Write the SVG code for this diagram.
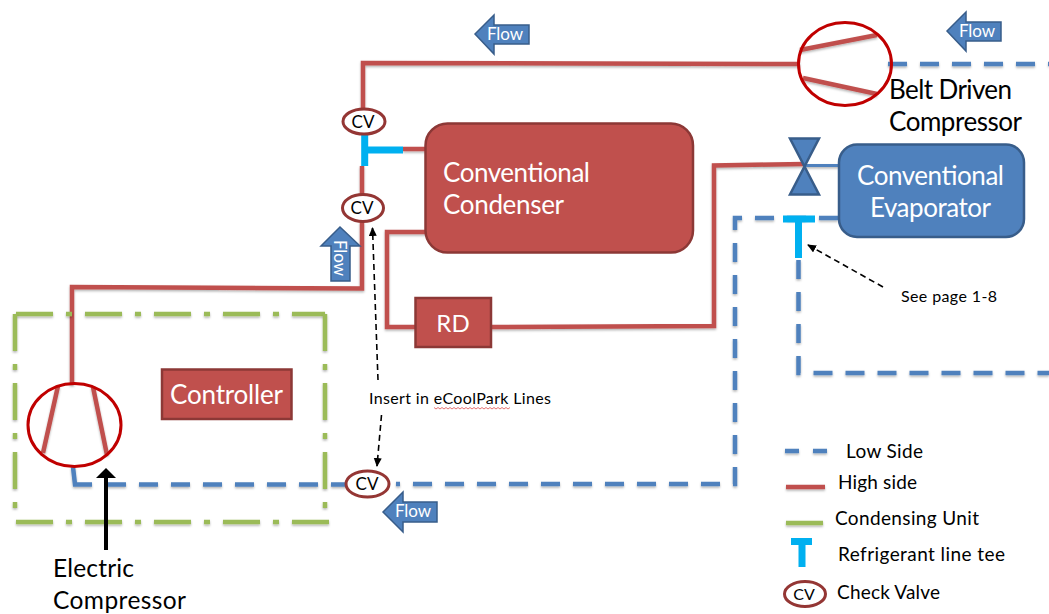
<svg xmlns="http://www.w3.org/2000/svg" width="1049" height="614" viewBox="0 0 1049 614">
<style>
text{font-family:Lato,"Liberation Sans",sans-serif}
.hi{fill:none;stroke:#C0504D;stroke-width:4.5;filter:url(#sh)}
.lo{fill:none;stroke:#4F81BD;stroke-width:4.5;stroke-dasharray:19 13;filter:url(#sh)}
.lo0{fill:none;stroke:#4F81BD;stroke-width:4.5;filter:url(#sh)}
.cu{fill:none;stroke:#9BBB59;stroke-width:4.5;stroke-dasharray:37 13 6 13;filter:url(#sh)}
.tee{fill:none;stroke:#00B0F0;stroke-width:7}
.cv{fill:#fff;stroke:#943634;stroke-width:3}
.comp{fill:none;stroke:#C00000;stroke-width:3}
.red{fill:#C0504D;stroke:#8C3836;stroke-width:2.5}
.blue{fill:#4F81BD;stroke:#385D8A;stroke-width:2.5}
.w{fill:#fff}
.k{fill:#000}
.an{fill:none;stroke:#000;stroke-width:1.6;stroke-dasharray:6 4}
</style>
<defs>
<filter id="sh" x="0" y="0" width="1049" height="614" filterUnits="userSpaceOnUse"><feDropShadow dx="0" dy="1.5" stdDeviation="1" flood-opacity=".3"/></filter>
<marker id="ah" markerWidth="10" markerHeight="10" refX="8" refY="4" orient="auto" markerUnits="userSpaceOnUse"><path d="M0,0L9,4L0,8Z" fill="#000"/></marker>
</defs>
<g id="connectors">
<path class="hi" d="M363,112V63L800,64"/>
<path class="hi" d="M362,166V195M362,222V288.500L72,287V385"/>
<path class="hi" d="M403,149H426"/>
<path class="hi" d="M426,232H387V327H415"/>
<path class="hi" d="M491,327L714,326V165.500L805,164"/>
<path class="lo0" d="M805,165.500H839" style="stroke-width:3"/>
<path class="lo" d="M888,64H1049"/>
<path class="lo" d="M838,218H735V484H396"/>
<path class="lo" d="M798.500,260V373H1049"/>
<path class="lo0" d="M73,467L75,484.500H92"/>
<path class="lo" style="stroke-dashoffset:3" d="M347,484.500H107"/>
<path class="cu" d="M16,314H325"/>
<path class="cu" d="M325,314V512"/>
<path class="cu" d="M15,314V512"/>
<path class="cu" d="M16,522H329"/>
<path class="an" d="M378,380L372.500,228" marker-end="url(#ah)"/>
<path class="an" d="M381.500,415L377,466" marker-end="url(#ah)"/>
<path class="an" d="M883,287L808,245" marker-end="url(#ah)"/>
<path d="M106,550V477" fill="none" stroke="#000" stroke-width="4"/>
<path d="M96,478H116L106,468Z" fill="#000"/>
</g>
<g id="belt-compressor">
<path class="hi" d="M800,50L877,35M803,78L877,94"/>
<ellipse class="comp" cx="845" cy="64" rx="46.500" ry="41.500"/>
<text class="k" font-size="26" x="889" y="99" textLength="123">Belt Driven</text>
<text class="k" font-size="26" x="889" y="131" textLength="133">Compressor</text>
</g>
<g id="electric-compressor">
<path class="hi" d="M58,386L43,453M93,387L107,455"/>
<ellipse class="comp" cx="74.500" cy="425" rx="46.500" ry="41.500"/>
<text class="k" font-size="24.500" x="53" y="577" textLength="81">Electric</text>
<text class="k" font-size="24.500" x="53" y="608.500" textLength="133">Compressor</text>
</g>
<g id="condenser">
<rect class="red" x="425.500" y="123.500" width="267.500" height="129" rx="22"/>
<text class="w" font-size="26" x="443" y="181.500" textLength="147">Conventional</text>
<text class="w" font-size="26" x="443" y="214" textLength="121">Condenser</text>
</g>
<g id="evaporator">
<rect class="blue" x="839" y="144.500" width="185" height="92.500" rx="18"/>
<text class="w" font-size="26" x="857" y="185" textLength="147">Conventional</text>
<text class="w" font-size="26" x="870" y="217" textLength="121">Evaporator</text>
</g>
<g id="expansion-valve">
<path class="blue" d="M790,138.500H819L790,194.500H819Z"/>
</g>
<g id="rd">
<rect class="red" x="415.500" y="298" width="75.500" height="49"/>
<text class="w" font-size="24" x="453" y="332" text-anchor="middle">RD</text>
</g>
<g id="controller">
<rect class="red" x="162" y="369.500" width="129.500" height="49.500"/>
<text class="w" font-size="26" x="170" y="404" textLength="113">Controller</text>
</g>
<g id="tee-condenser"><path class="tee" d="M364.700,135V166M364.700,150H403"/></g>
<g id="tee-evaporator"><path class="tee" d="M783,219H815M798.500,219V258"/></g>
<g id="cv-upper">
<ellipse class="cv" cx="364" cy="121.500" rx="21" ry="12.500"/>
<text class="k" font-size="17" x="363" y="127.500" text-anchor="middle">CV</text>
</g>
<g id="cv-lower">
<ellipse class="cv" cx="363" cy="208" rx="20.500" ry="13.500"/>
<text class="k" font-size="17" x="362" y="214" text-anchor="middle">CV</text>
</g>
<g id="cv-low-side">
<ellipse class="cv" cx="367.500" cy="484" rx="21.500" ry="13"/>
<text class="k" font-size="17" x="367" y="490" text-anchor="middle">CV</text>
</g>
<g id="flow-top">
<path class="blue" style="stroke-width:1.500" d="M475,34L494,15V25H529V44H494V54Z"/>
<text class="w" font-size="17" x="487" y="40" textLength="36">Flow</text>
</g>
<g id="flow-right">
<path class="blue" style="stroke-width:1.500" d="M947,31L966,12V22H1001V41H966V51Z"/>
<text class="w" font-size="17" x="959" y="37" textLength="36">Flow</text>
</g>
<g id="flow-bottom">
<path class="blue" style="stroke-width:1.500" d="M383,512L403,492V502H437V522H403V532Z"/>
<text class="w" font-size="17" x="395" y="517" textLength="36">Flow</text>
</g>
<g id="flow-up">
<path class="blue" style="stroke-width:1.500" d="M340,227L360,246H350V281H331V246H321Z"/>
<text class="w" font-size="17" transform="translate(334,240) rotate(90)" textLength="36">Flow</text>
</g>
<g id="note-insert">
<text class="k" font-size="16" x="369" y="404" textLength="182">Insert in eCoolPark Lines</text>
<path d="M434,407.500l2,1.500 2,-1.500 2,1.500 2,-1.500 2,1.500 2,-1.500 2,1.500 2,-1.500 2,1.500 2,-1.500 2,1.500 2,-1.500 2,1.500 2,-1.500 2,1.500 2,-1.500 2,1.500 2,-1.500 2,1.500 2,-1.500 2,1.500 2,-1.500 2,1.500 2,-1.500 2,1.500 2,-1.500 2,1.500 2,-1.500 2,1.500 2,-1.500 2,1.500 2,-1.500 2,1.500 2,-1.500 2,1.500 2,-1.500 2,1.500 2,-1.500" fill="none" stroke="#E05050" stroke-width=".8"/>
</g>
<g id="note-page">
<text class="k" font-size="16" x="901" y="302" textLength="96">See page 1-8</text>
</g>
<g id="legend">
<path class="lo0" style="stroke-dasharray:14 14" d="M785,451H832"/>
<text class="k" font-size="19" x="846" y="457.500" textLength="77">Low Side</text>
<path class="hi" d="M786,487H825"/>
<text class="k" font-size="19" x="838" y="489" textLength="79">High side</text>
<path class="hi" style="stroke:#9BBB59" d="M786,523H823"/>
<text class="k" font-size="19" x="835" y="525" textLength="144">Condensing Unit</text>
<path class="tee" d="M791,541.500H812M802,541.500V567"/>
<text class="k" font-size="19" x="838" y="561" textLength="167">Refrigerant line tee</text>
<ellipse class="cv" cx="805" cy="594" rx="20.500" ry="12.500"/>
<text class="k" font-size="16" x="804" y="600" text-anchor="middle">CV</text>
<text class="k" font-size="19" x="837" y="599" textLength="103">Check Valve</text>
</g>
</svg>
